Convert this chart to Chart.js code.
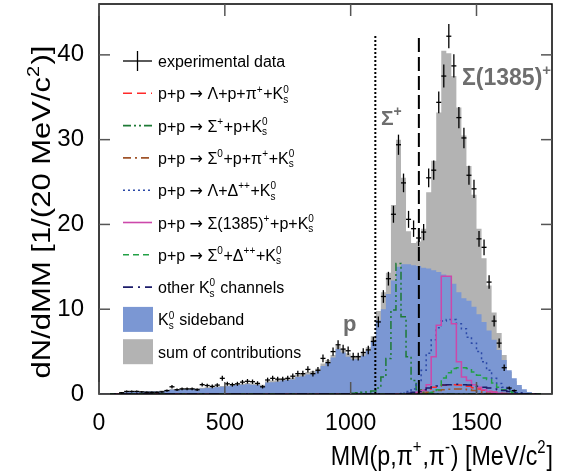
<!DOCTYPE html>
<html>
<head>
<meta charset="utf-8">
<script src="https://cdn.jsdelivr.net/npm/chart.js@4.4.1/dist/chart.umd.min.js"></script>
<style>
    html, body { margin: 0; padding: 0; background: #fff; }
</style>
</head>
<body>
<canvas id="mmChart" width="564" height="476"></canvas>
<script>
// Бины по 20 MeV/c^2 от 0 до 1800
const binWidth = 20;
const binCount = 90;
const xTicks = [0, 500, 1000, 1500];
const yTicks = [0, 10, 20, 30, 40];

// Экспериментальные точки (null = нет точки) и их ошибки
const dataVals = [
    null, null, null, null, 0.15, 0.3, 0.3, 0.3, 0.25, 0.2,
    0.2, 0.2, 0.25, 0.4, 0.85, 0.5, 0.6, 0.6, 0.6, 0.5,
    1.1, 1.0, 0.9, 1.05, 1.85, 1.2, 1.1, 1.2, 1.4, 1.5,
    1.45, 1.25, 0.85, 1.65, 1.85, 1.75, 1.75, 1.85, 2.1, 2.4,
    2.4, 2.9, 2.4, 2.8, 4.2, 3.7, 5.0, 5.8, 5.3, 5.1,
    4.4, 4.4, 4.9, 5.2, 6.2, 8.5, 11.5, 13.6, 21.2, 29.4,
    24.9, 20.6, 19.5, 18.4, 19.1, 25.5, 26.4, 34.4, 37.5, 42.2,
    38.7, 32.6, 30.2, 25.8, 24.2, 18.3, 17.3, 13.2, 8.6, 6.0,
    3.1, 0.7, 0.4, null, null, null, null, null, null, null
];
const dataErr = [
    null, null, null, null, 0.09, 0.12, 0.12, 0.12, 0.11, 0.1,
    0.1, 0.1, 0.11, 0.14, 0.2, 0.16, 0.17, 0.17, 0.17, 0.16,
    0.23, 0.22, 0.21, 0.23, 0.3, 0.24, 0.23, 0.24, 0.26, 0.27,
    0.26, 0.25, 0.2, 0.28, 0.3, 0.29, 0.29, 0.3, 0.32, 0.34,
    0.34, 0.37, 0.34, 0.37, 0.45, 0.42, 0.49, 0.53, 0.51, 0.5,
    0.46, 0.46, 0.49, 0.5, 0.55, 0.64, 0.75, 0.81, 1.0, 1.19,
    1.1, 1.0, 0.97, 0.94, 0.96, 1.11, 1.13, 1.29, 1.35, 1.43,
    1.37, 1.26, 1.21, 1.12, 1.08, 0.94, 0.92, 0.8, 0.65, 0.54,
    0.39, 0.18, 0.14, null, null, null, null, null, null, null
];

// Сумма вкладов (серая гистограмма)
const sumVals = [
    0.05, 0.08, 0.1, 0.12, 0.15, 0.25, 0.3, 0.3, 0.3, 0.35,
    0.35, 0.35, 0.4, 0.5, 0.6, 0.6, 0.65, 0.65, 0.7, 0.7,
    0.75, 0.8, 0.85, 0.9, 0.95, 1.0, 1.1, 1.15, 1.2, 1.3,
    1.25, 1.2, 1.1, 1.5, 1.6, 1.65, 1.8, 1.9, 1.95, 2.25,
    2.35, 2.6, 2.7, 3.0, 3.6, 4.0, 4.6, 5.7, 5.3, 4.8,
    4.5, 4.5, 4.9, 5.5, 6.8, 9.8, 12.0, 14.3, 22.3, 30.0,
    25.5, 19.2, 17.8, 18.0, 19.5, 23.8, 27.5, 33.2, 40.5, 40.2,
    37.5, 33.8, 30.5, 26.9, 23.5, 19.5, 16.0, 12.8, 9.6, 7.2,
    4.6, 2.6, 1.5, 0.8, 0.35, 0.15, 0.05, 0, 0, 0
];

// K0s sideband (синяя гистограмма)
const sidebandVals = [
    0.05, 0.05, 0.08, 0.1, 0.12, 0.2, 0.25, 0.25, 0.25, 0.3,
    0.3, 0.3, 0.3, 0.45, 0.5, 0.5, 0.55, 0.55, 0.6, 0.6,
    0.65, 0.7, 0.75, 0.8, 0.85, 0.9, 1.0, 1.05, 1.1, 1.15,
    1.1, 1.05, 0.95, 1.35, 1.4, 1.45, 1.6, 1.65, 1.7, 2.0,
    2.1, 2.3, 2.4, 2.7, 3.3, 3.7, 4.3, 5.3, 4.9, 4.4,
    4.1, 4.1, 4.5, 5.1, 6.2, 8.7, 10.0, 11.8, 13.4, 15.0,
    15.3, 15.3, 15.2, 15.1, 14.9, 14.8, 14.6, 14.4, 14.1, 13.8,
    13.0, 12.0, 11.3, 11.0, 10.3, 9.4, 8.5, 7.5, 6.4, 5.2,
    4.0, 2.8, 1.85, 1.05, 0.55, 0.25, 0.1, 0.05, 0, 0
];

// Каналы: начало первого бина (MeV/c^2) и значения, вне диапазона 0
const lambdaPPiStart = 1240;
const lambdaPPiVals = [0.05, 0.2, 0.4, 0.6, 0.8, 0.95, 1.05, 1.1, 1.1, 1.05, 1.0, 0.9, 0.75, 0.6, 0.45, 0.3, 0.2, 0.1, 0.05];
const sigmaPStart = 1000;
const sigmaPVals = [0.1, 0.15, 0.2, 0.25, 0.35, 0.7, 2.0, 4.2, 9.9, 15.4, 9.1, 4.4, 1.6, 0.5, 0.2, 0.1, 0.05];
const sigma0PPiStart = 1280;
const sigma0PPiVals = [0.1, 0.2, 0.3, 0.4, 0.5, 0.55, 0.6, 0.6, 0.55, 0.5, 0.4, 0.3, 0.2, 0.1, 0.05];
const lambdaDeltaStart = 1200;
const lambdaDeltaVals = [0.1, 0.3, 0.6, 1.3, 2.8, 4.8, 6.4, 7.8, 8.6, 8.8, 8.8, 8.3, 7.7, 6.7, 6.0, 5.0, 3.8, 2.8, 1.85, 1.25, 0.8, 0.5, 0.3, 0.15];
const sigma1385Start = 1260;
const sigma1385Vals = [0.2, 0.4, 1.1, 4.4, 8.1, 13.9, 13.9, 8.3, 3.8, 2.0, 1.6, 1.1, 0.8, 0.5, 0.3, 0.2, 0.1];
const sigma0DeltaStart = 1300;
const sigma0DeltaVals = [0.1, 0.2, 0.5, 1.9, 2.5, 3.0, 3.1, 3.1, 3.0, 2.6, 2.2, 1.9, 1.7, 1.3, 0.8, 0.5, 0.3, 0.15];
const otherStart = 1200;
const otherVals = [0.05, 0.1, 0.2, 0.3, 0.5, 0.7, 0.85, 0.95, 1.05, 1.1, 1.15, 1.15, 1.1, 1.05, 1.0, 0.9, 0.8, 0.7, 0.6, 0.5, 0.4, 0.3, 0.2, 0.1];

// Вертикальные маркеры
const dottedMM = 1098;
const dashedMM = 1271;
const markerTop = 42.3;

const FONT = "'Liberation Sans', Arial, sans-serif";
const ARROW_FONT = "'DejaVu Sans', sans-serif";

function padBins(startMM, vals) {
    const out = new Array(binCount).fill(0);
    const i0 = startMM / binWidth;
    vals.forEach((v, k) => { out[i0 + k] = v; });
    return out;
}

function histPoints(vals) {
    const pts = [];
    vals.forEach((v, i) => {
        pts.push({ x: i * binWidth, y: v }, { x: (i + 1) * binWidth, y: v });
    });
    return pts;
}

const channels = [
    { label: 'p+p → Λ+p+π^{+}+K_{s}^{0}', vals: padBins(lambdaPPiStart, lambdaPPiVals), color: '#ff2a2a', dash: [9, 5] },
    { label: 'p+p → Σ^{+}+p+K_{s}^{0}', vals: padBins(sigmaPStart, sigmaPVals), color: '#1e7a36', dash: [8, 3, 2, 3, 2, 3] },
    { label: 'p+p → Σ^{0}+p+π^{+}+K_{s}^{0}', vals: padBins(sigma0PPiStart, sigma0PPiVals), color: '#a0542a', dash: [8, 4, 2, 4] },
    { label: 'p+p → Λ+Δ^{++}+K_{s}^{0}', vals: padBins(lambdaDeltaStart, lambdaDeltaVals), color: '#2c4aa8', dash: [2, 3] },
    { label: 'p+p → Σ(1385)^{+}+p+K_{s}^{0}', vals: padBins(sigma1385Start, sigma1385Vals), color: '#cc48aa', dash: [] },
    { label: 'p+p → Σ^{0}+Δ^{++}+K_{s}^{0}', vals: padBins(sigma0DeltaStart, sigma0DeltaVals), color: '#22a046', dash: [6, 4] },
    { label: 'other K_{s}^{0} channels', vals: padBins(otherStart, otherVals), color: '#1c1c6a', dash: [10, 5, 2, 5] }
];

const datasets = [
    { label: 'sum', data: histPoints(sumVals), borderWidth: 0, borderColor: 'rgba(0,0,0,0)',
      backgroundColor: '#b3b3b3', fill: 'origin', pointRadius: 0, order: 20 },
    { label: 'sideband', data: histPoints(sidebandVals), borderWidth: 0, borderColor: 'rgba(0,0,0,0)',
      backgroundColor: '#7b97d3', fill: 'origin', pointRadius: 0, order: 19 }
];
channels.forEach((c, k) => {
    datasets.push({ label: c.label, data: histPoints(c.vals), borderColor: c.color, borderWidth: 1.5,
        borderDash: c.dash, fill: false, pointRadius: 0, order: 10 - k });
});
datasets.push(
    { label: 'dotted', data: [{ x: dottedMM, y: 0 }, { x: dottedMM, y: markerTop }], borderColor: '#000',
      borderWidth: 2, borderDash: [2, 2], pointRadius: 0, fill: false, order: 1 },
    { label: 'dashed', data: [{ x: dashedMM, y: 0 }, { x: dashedMM, y: markerTop }], borderColor: '#000',
      borderWidth: 2, borderDash: [14, 5], pointRadius: 0, fill: false, order: 1 }
);

// Текст с индексами: ^{..} верхний, _{..} нижний, стрелка отдельным шрифтом
function parseRich(str) {
    const parts = [];
    const re = /\^\{([^}]*)\}|_\{([^}]*)\}|(→)|([^_^→]+)/g;
    let m;
    while ((m = re.exec(str)) !== null) {
        if (m[1] !== undefined) parts.push({ sup: m[1] });
        else if (m[2] !== undefined) parts.push({ sub: m[2] });
        else if (m[3] !== undefined) parts.push({ txt: m[3], arrow: true });
        else parts.push({ txt: m[4] });
    }
    const out = [];
    parts.forEach(p => {
        const last = out[out.length - 1];
        if (last && last.txt === undefined &&
            ((p.sup !== undefined && last.sup === undefined) || (p.sub !== undefined && last.sub === undefined))) {
            Object.assign(last, p);
        } else {
            out.push(p);
        }
    });
    return out;
}

function richText(ctx, str, x, y, size, opt) {
    opt = opt || {};
    const weight = opt.bold ? 'bold ' : '';
    const big = weight + size + 'px ' + FONT;
    const arrow = size + 'px ' + ARROW_FONT;
    const small = weight + Math.round(size * 0.65) + 'px ' + FONT;
    const parts = parseRich(str);
    let w = 0;
    parts.forEach(p => {
        if (p.txt !== undefined) {
            ctx.font = p.arrow ? arrow : big;
            p.w = ctx.measureText(p.txt).width;
        } else {
            ctx.font = small;
            p.w = Math.max(p.sup ? ctx.measureText(p.sup).width : 0, p.sub ? ctx.measureText(p.sub).width : 0) + size * 0.04;
        }
        w += p.w;
    });
    ctx.save();
    ctx.translate(x, y);
    ctx.scale(opt.sx || 1, opt.sy || 1);
    let cx = 0;
    if (opt.align === 'right') cx = -w;
    else if (opt.align === 'center') cx = -w / 2;
    ctx.textAlign = 'left';
    ctx.textBaseline = 'alphabetic';
    parts.forEach(p => {
        if (p.txt !== undefined) {
            ctx.font = p.arrow ? arrow : big;
            ctx.fillText(p.txt, cx, 0);
        } else {
            ctx.font = small;
            if (p.sup) ctx.fillText(p.sup, cx, -size * 0.42);
            if (p.sub) ctx.fillText(p.sub, cx, size * 0.22);
        }
        cx += p.w;
    });
    ctx.restore();
    return w;
}

function seg(ctx, x1, y1, x2, y2) {
    ctx.beginPath();
    ctx.moveTo(x1, y1);
    ctx.lineTo(x2, y2);
    ctx.stroke();
}

const decorPlugin = {
    id: 'decor',
    afterDatasetsDraw(chart) {
        const { ctx, scales: { x, y } } = chart;
        // экспериментальные точки с ошибками
        ctx.save();
        ctx.strokeStyle = '#000';
        ctx.lineWidth = 1.3;
        dataVals.forEach((v, i) => {
            if (v === null) return;
            const e = dataErr[i];
            const xc = x.getPixelForValue(i * binWidth + binWidth / 2);
            const yc = y.getPixelForValue(v);
            seg(ctx, x.getPixelForValue(i * binWidth), yc, x.getPixelForValue((i + 1) * binWidth), yc);
            seg(ctx, xc, y.getPixelForValue(v - e), xc, y.getPixelForValue(v + e));
        });
        ctx.restore();
    },
    afterDraw(chart) {
        const { ctx, chartArea: a, scales: { x, y } } = chart;
        ctx.save();
        // рамка и внутренние штрихи
        ctx.strokeStyle = '#000';
        ctx.lineWidth = 1.5;
        ctx.strokeRect(a.left, a.top, a.right - a.left, a.bottom - a.top);
        ctx.strokeStyle = '#555';
        yTicks.forEach(v => {
            const py = y.getPixelForValue(v);
            seg(ctx, a.left, py, a.left + 11, py);
            seg(ctx, a.right, py, a.right - 11, py);
        });
        xTicks.forEach(v => {
            const px = x.getPixelForValue(v);
            seg(ctx, px, a.top, px, a.top + 12);
            seg(ctx, px, a.bottom, px, a.bottom - 12);
        });

        // подписи осей
        ctx.fillStyle = '#000';
        richText(ctx, 'MM(p,π^{+},π^{-}) [MeV/c^{2}]', 553, 465, 28, { align: 'right', sx: 0.83 });
        ctx.save();
        ctx.translate(50, 212);
        ctx.rotate(-Math.PI / 2);
        richText(ctx, 'dN/dMM [1/(20 MeV/c^{2})]', 0, 0, 31, { align: 'center', sy: 0.86 });
        ctx.restore();

        // подписи пиков
        ctx.fillStyle = '#6e6e6e';
        richText(ctx, 'p', 343, 331, 22, { bold: true });
        richText(ctx, 'Σ^{+}', 381, 125, 21, { bold: true });
        richText(ctx, 'Σ(1385)^{+}', 462, 85, 23, { bold: true });

        // легенда
        const lx0 = 123, lx1 = 152, tx = 158, ly0 = 61, step = 32.3;
        ctx.fillStyle = '#000';
        ctx.strokeStyle = '#000';
        ctx.lineWidth = 1.3;
        seg(ctx, lx0, ly0, lx1, ly0);
        seg(ctx, (lx0 + lx1) / 2, ly0 - 10, (lx0 + lx1) / 2, ly0 + 10);
        richText(ctx, 'experimental data', tx, ly0 + 6, 16);
        channels.forEach((c, k) => {
            const yy = ly0 + step * (k + 1);
            ctx.strokeStyle = c.color;
            ctx.lineWidth = 1.6;
            ctx.setLineDash(c.dash);
            seg(ctx, lx0, yy, lx1, yy);
            ctx.setLineDash([]);
            ctx.fillStyle = '#000';
            richText(ctx, c.label, tx, yy + 6, 16);
        });
        const boxes = [
            { label: 'K_{s}^{0} sideband', color: '#7b97d3' },
            { label: 'sum of contributions', color: '#b3b3b3' }
        ];
        boxes.forEach((b, k) => {
            const yy = ly0 + step * (channels.length + 1 + k);
            ctx.fillStyle = b.color;
            ctx.fillRect(lx0, yy - 12.5, 30, 25);
            ctx.fillStyle = '#000';
            richText(ctx, b.label, tx, yy + 6, 16);
        });
        ctx.restore();
    }
};

new Chart(document.getElementById('mmChart').getContext('2d'), {
    type: 'line',
    data: { datasets: datasets },
    options: {
        responsive: false,
        animation: false,
        devicePixelRatio: 1,
        layout: { padding: { left: 0, right: 12, top: 4, bottom: 0 } },
        plugins: { legend: { display: false }, tooltip: { enabled: false } },
        elements: { line: { tension: 0 } },
        scales: {
            x: {
                type: 'linear',
                min: 0,
                max: 1800,
                afterBuildTicks: s => { s.ticks = xTicks.map(v => ({ value: v })); },
                afterFit: s => { s.height = 82; s.paddingLeft = 0; s.paddingRight = 0; },
                grid: { display: false },
                border: { display: false },
                ticks: { font: { family: FONT, size: 23 }, color: '#000', padding: 8, maxRotation: 0, autoSkip: false,
                         callback: v => String(v) }
            },
            y: {
                type: 'linear',
                min: 0,
                max: 46,
                afterBuildTicks: s => { s.ticks = yTicks.map(v => ({ value: v })); },
                afterFit: s => { s.width = 99; s.paddingTop = 0; s.paddingBottom = 0; },
                grid: { display: false },
                border: { display: false },
                ticks: { font: { family: FONT, size: 24 }, color: '#000', padding: 7, callback: v => String(v) }
            }
        }
    },
    plugins: [decorPlugin]
});
</script>
</body>
</html>
